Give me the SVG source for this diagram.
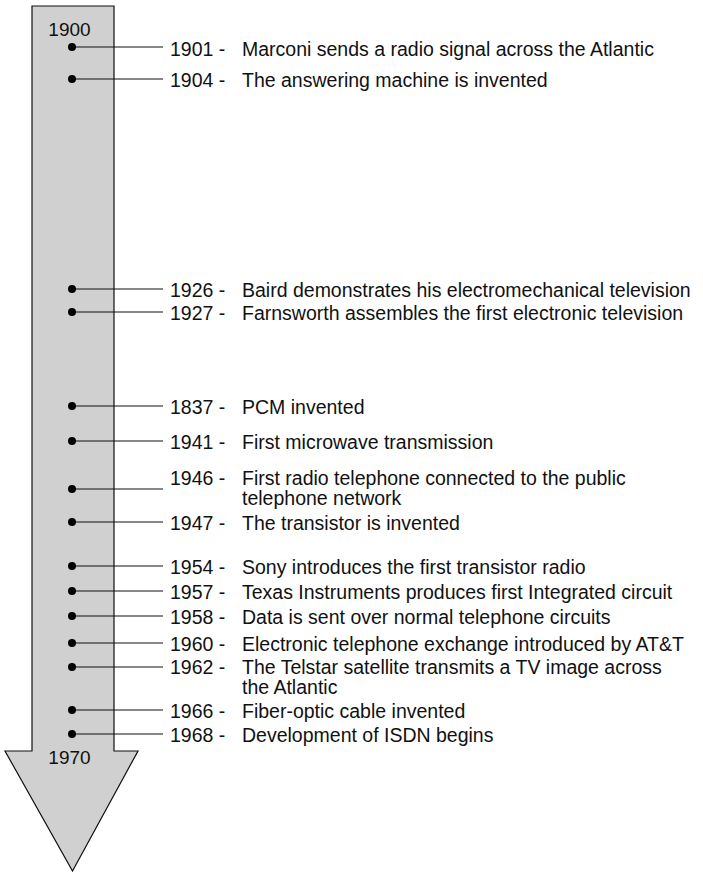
<svg xmlns="http://www.w3.org/2000/svg" width="703" height="875" viewBox="0 0 703 875">
<style>
  text { font-family: "Liberation Sans", Arial, Helvetica, sans-serif; font-size: 19.5px; fill: #111; }
  .yr { font-size: 19px; }
  .ln { stroke: #111; stroke-width: 1.2; fill: none; }
  .dot { fill: #000; }
</style>
<rect width="703" height="875" fill="#fff"/>
<g id="arrow">
  <polygon points="32,6 114,6 114,751 138,751 72.5,871 5,751 32,751" fill="#d0d0d0" stroke="#111" stroke-width="1.2"/>
  <text class="yr" x="69.5" y="36" text-anchor="middle">1900</text>
  <text class="yr" x="69.5" y="764" text-anchor="middle">1970</text>
</g>
<g id="connectors">
  <path class="ln" d="M72,47H163 M72,79H163 M72,289H163 M72,312H163 M72,406H163 M72,441H163 M72,489H163 M72,522H163 M72,566H163 M72,591H163 M72,616H163 M72,643H163 M72,667H163 M72,710H163 M72,734H163"/>
  <g class="dot">
    <circle cx="72" cy="47" r="4"/><circle cx="72" cy="79" r="4"/><circle cx="72" cy="289" r="4"/><circle cx="72" cy="312" r="4"/><circle cx="72" cy="406" r="4"/><circle cx="72" cy="441" r="4"/><circle cx="72" cy="489" r="4"/><circle cx="72" cy="522" r="4"/><circle cx="72" cy="566" r="4"/><circle cx="72" cy="591" r="4"/><circle cx="72" cy="616" r="4"/><circle cx="72" cy="643" r="4"/><circle cx="72" cy="667" r="4"/><circle cx="72" cy="710" r="4"/><circle cx="72" cy="734" r="4"/>
  </g>
</g>
<g id="e1901"><text x="170" y="56">1901 -</text><text x="242" y="56">Marconi sends a radio signal across the Atlantic</text></g>
<g id="e1904"><text x="170" y="87">1904 -</text><text x="242" y="87">The answering machine is invented</text></g>
<g id="e1926"><text x="170" y="297">1926 -</text><text x="242" y="297">Baird demonstrates his electromechanical television</text></g>
<g id="e1927"><text x="170" y="320">1927 -</text><text x="242" y="320">Farnsworth assembles the first electronic television</text></g>
<g id="e1837"><text x="170" y="414">1837 -</text><text x="242" y="414">PCM invented</text></g>
<g id="e1941"><text x="170" y="449">1941 -</text><text x="242" y="449">First microwave transmission</text></g>
<g id="e1946"><text x="170" y="485">1946 -</text><text x="242" y="485">First radio telephone connected to the public</text><text x="242" y="505">telephone network</text></g>
<g id="e1947"><text x="170" y="530">1947 -</text><text x="242" y="530">The transistor is invented</text></g>
<g id="e1954"><text x="170" y="574">1954 -</text><text x="242" y="574">Sony introduces the first transistor radio</text></g>
<g id="e1957"><text x="170" y="599">1957 -</text><text x="242" y="599">Texas Instruments produces first Integrated circuit</text></g>
<g id="e1958"><text x="170" y="624">1958 -</text><text x="242" y="624">Data is sent over normal telephone circuits</text></g>
<g id="e1960"><text x="170" y="651">1960 -</text><text x="242" y="651">Electronic telephone exchange introduced by AT&amp;T</text></g>
<g id="e1962"><text x="170" y="674">1962 -</text><text x="242" y="674">The Telstar satellite transmits a TV image across</text><text x="242" y="694">the Atlantic</text></g>
<g id="e1966"><text x="170" y="718">1966 -</text><text x="242" y="718">Fiber-optic cable invented</text></g>
<g id="e1968"><text x="170" y="742">1968 -</text><text x="242" y="742">Development of ISDN begins</text></g>
</svg>
